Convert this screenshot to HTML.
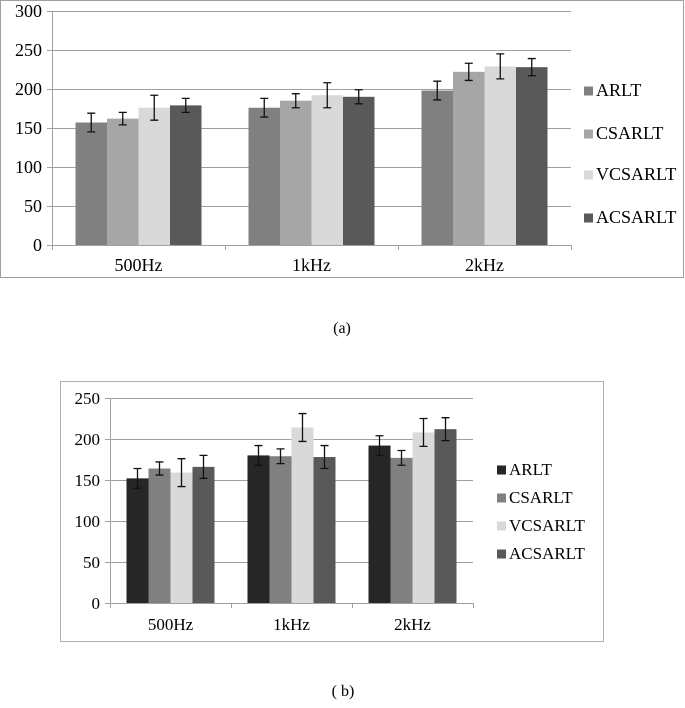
<!DOCTYPE html>
<html><head><meta charset="utf-8"><style>
body{margin:0;background:#fff;width:685px;height:703px;overflow:hidden;font-family:"Liberation Serif",serif}
svg text{font-family:"Liberation Serif",serif;fill:#000}
</style></head><body>
<svg id="s" width="685" height="703">
<rect x="0.5" y="0.5" width="683" height="277" fill="#fff" stroke="#a0a0a0"/>
<rect x="60.5" y="381.5" width="543" height="260" fill="#fff" stroke="#b0b0b0"/>
<text x="342" y="333" font-size="16" text-anchor="middle">(a)</text>
<text x="343" y="696" font-size="16" text-anchor="middle">( b)</text>
</svg>
<script>
const categories=["500Hz","1kHz","2kHz"];
const seriesNames=["ARLT","CSARLT","VCSARLT","ACSARLT"];
const aValues=[[157,176,198],[162,185,222],[176,192,229],[179,190,228]];
const aErrors=[[12,12,12],[8,9,11],[16,16,16],[9,9,11]];
const aTicks=[0,50,100,150,200,250,300];
const bValues=[[152,180,192],[164,179,177],[159,214,208],[166,178,212]];
const bErrors=[[12,12,12],[8,9,9],[17,17,17],[14,14,14]];
const bTicks=[0,50,100,150,200,250];
const NS="http://www.w3.org/2000/svg";
const svg=document.getElementById('s');
function mk(tag,at){const e=document.createElementNS(NS,tag);for(const k in at)e.setAttribute(k,at[k]);svg.appendChild(e);return e;}
function chart(p,vals,errs,ticks,colors,cfg){
  const ymax=ticks[ticks.length-1];
  const Y=v=>cfg.y0-(cfg.y0-cfg.yT)*v/ymax;
  const gw=(cfg.x1-cfg.x0)/categories.length;
  const X=(ci,si)=>cfg.x0+ci*gw+cfg.off+si*cfg.bw;
  ticks.forEach(t=>{
    const l=mk('line',{x1:cfg.x0-5,x2:cfg.x1,y1:Y(t)+.5,y2:Y(t)+.5,stroke:'#a0a0a0'});
    
    
    const tx=mk('text',{x:cfg.x0-10,y:Y(t)+6,'font-size':cfg.fs,'text-anchor':'end'});
    tx.textContent=t;
    
    
  });
  const ax=mk('line',{x1:cfg.x0+.5,x2:cfg.x0+.5,y1:cfg.yT,y2:cfg.y0,stroke:'#a0a0a0'});
  
  
  for(let i=0;i<=categories.length;i++){
    const tk=mk('line',{x1:cfg.x0+i*gw+.5,x2:cfg.x0+i*gw+.5,y1:cfg.y0,y2:cfg.y0+5,stroke:'#a0a0a0'});
    
    
  }
  categories.forEach((c,ci)=>{
    const tx=mk('text',{x:cfg.x0+ci*gw+gw/2,y:cfg.xl,'font-size':cfg.fs,'text-anchor':'middle'});
    tx.textContent=c;
    
    
  });
  vals.forEach((s,si)=>s.forEach((v,ci)=>{
    const x=X(ci,si);
    const r=mk('rect',{x:x,y:Y(v),width:cfg.bw,height:cfg.y0-Y(v),fill:colors[si]});
    
    
    const cx=x+cfg.bw/2,e=errs[si][ci];
    const g=mk('path',{d:`M${cx} ${Y(v+e)}V${Y(v-e)}M${cx-4} ${Y(v+e)}H${cx+4}M${cx-4} ${Y(v-e)}H${cx+4}`,stroke:'#111','stroke-width':1.3,fill:'none'});
    
    
  }));
  seriesNames.forEach((n,si)=>{
    const y=cfg.ly[si];
    const r=mk('rect',{x:cfg.lx,y:y-cfg.sq/2-5,width:cfg.sq,height:cfg.sq,fill:colors[si]});
    
    
    const t=mk('text',{x:cfg.lx+cfg.sq+3,y:y,'font-size':cfg.lfs});
    t.textContent=n;
    
    
  });
}
chart('a',aValues,aErrors,aTicks,['#808080','#a6a6a6','#d9d9d9','#595959'],
 {x0:52,x1:571,y0:245,yT:11,off:23.5,bw:31.5,fs:18,xl:271,lx:584,sq:9,ly:[96,139,180,223],lfs:18});
chart('b',bValues,bErrors,bTicks,['#262626','#808080','#d9d9d9','#595959'],
 {x0:110,x1:473,y0:603,yT:398,off:16.5,bw:22,fs:17,xl:630,lx:497,sq:9,ly:[475,503,531,559],lfs:17});
</script>
</body></html>
